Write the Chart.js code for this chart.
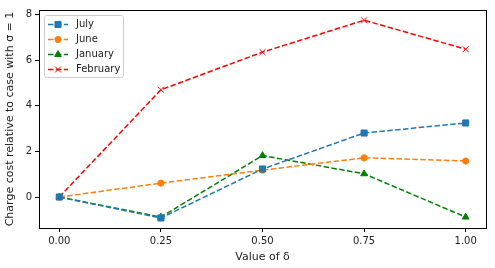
<!DOCTYPE html>
<html lang="en">
<head>
<meta charset="utf-8">
<title>Charge cost</title>
<script src="https://cdn.jsdelivr.net/npm/chart.js@4.4.1/dist/chart.umd.min.js"></script>
<style>
  html, body { margin: 0; padding: 0; background: #fff; }
  #wrap { width: 495px; height: 268px; }
</style>
</head>
<body>
<div id="wrap"><canvas id="chart"></canvas></div>
<script>
// data
var deltas = [0, 0.25, 0.5, 0.75, 1.0];
var july = [0, -0.92, 1.23, 2.81, 3.25];
var june = [0, 0.61, 1.18, 1.72, 1.58];
var january = [0, -0.88, 1.82, 1.02, -0.88];
var february = [0, 4.71, 6.36, 7.76, 6.49];
var xTicks = [0, 0.25, 0.5, 0.75, 1.0];
var yTicks = [0, 2, 4, 6, 8];

function pts(ys) {
  return deltas.map(function (x, i) { return { x: x, y: ys[i] }; });
}

var FONT = "'DejaVu Sans', sans-serif";
var dash = [5.5, 2.4];
var radii = { rect: 4.3, circle: 3.1, triangle: 3.9, crossRot: 4.2 };

function series(label, ys, color, style, filled) {
  return {
    label: label,
    data: pts(ys),
    borderColor: color,
    backgroundColor: filled ? color : 'rgba(0,0,0,0)',
    pointBackgroundColor: filled ? color : 'rgba(0,0,0,0)',
    pointBorderColor: color,
    pointStyle: style,
    pointRadius: radii[style],
    pointBorderWidth: 1,
    borderWidth: 1.5,
    borderDash: dash,
    tension: 0
  };
}

// box round the plot + legend drawn inside top-left
var frame = {
  id: 'frame',
  afterDraw: function (chart) {
    var ctx = chart.ctx, a = chart.chartArea;
    ctx.save();
    ctx.strokeStyle = '#000';
    ctx.lineWidth = 1;
    ctx.strokeRect(Math.round(a.left) + 0.5, Math.round(a.top) + 0.5,
      Math.round(a.right - a.left), Math.round(a.bottom - a.top));

    // legend
    var bx = a.left + 5, by = a.top + 5, bw = 79, bh = 62;
    ctx.fillStyle = 'rgba(255,255,255,0.8)';
    ctx.strokeStyle = '#ccc';
    ctx.beginPath();
    ctx.roundRect(bx + 0.5, by + 0.5, bw, bh, 2);
    ctx.fill();
    ctx.stroke();
    ctx.font = '10px ' + FONT;
    ctx.textBaseline = 'middle';
    chart.data.datasets.forEach(function (ds, i) {
      var y = by + 9.5 + i * 15;
      ctx.strokeStyle = ds.borderColor;
      ctx.lineWidth = 1.5;
      ctx.setLineDash(dash);
      ctx.beginPath();
      ctx.moveTo(bx + 4, y);
      ctx.lineTo(bx + 24, y);
      ctx.stroke();
      ctx.setLineDash([]);
      ctx.lineWidth = 1;
      ctx.fillStyle = ds.pointBackgroundColor;
      ctx.strokeStyle = ds.pointBorderColor;
      Chart.helpers.drawPoint(ctx, {
        pointStyle: ds.pointStyle, radius: ds.pointRadius, borderWidth: 1
      }, bx + 14, y);
      ctx.fillStyle = '#222';
      ctx.fillText(ds.label, bx + 32, y);
    });
    ctx.restore();
  }
};

new Chart(document.getElementById('chart'), {
  type: 'line',
  data: {
    datasets: [
      series('July', july, '#1f77b4', 'rect', true),
      series('June', june, '#ff7f0e', 'circle', true),
      series('January', january, '#008000', 'triangle', true),
      series('February', february, '#ff0000', 'crossRot', false)
    ]
  },
  options: {
    responsive: true,
    maintainAspectRatio: false,
    animation: false,
    layout: { padding: { left: 0, right: 9, top: 10, bottom: 0 } },
    plugins: { legend: { display: false }, tooltip: { enabled: false } },
    scales: {
      x: {
        type: 'linear',
        min: -0.05,
        max: 1.05,
        afterBuildTicks: function (s) { s.ticks = xTicks.map(function (v) { return { value: v }; }); },
        afterFit: function (s) { s.height = 40; },
        grid: { drawOnChartArea: false, tickLength: 4, tickColor: '#000' },
        border: { display: false },
        ticks: {
          color: '#222', font: { family: FONT, size: 10 }, padding: 3, maxRotation: 0,
          callback: function (v) { return Number(v).toFixed(2); }
        },
        title: { display: true, text: 'Value of δ', color: '#222', font: { family: FONT, size: 11 }, padding: { top: 2 } }
      },
      y: {
        min: -1.36,
        max: 8.21,
        afterBuildTicks: function (s) { s.ticks = yTicks.map(function (v) { return { value: v }; }); },
        afterFit: function (s) { s.width = 39; },
        grid: { drawOnChartArea: false, tickLength: 4, tickColor: '#000' },
        border: { display: false },
        ticks: { color: '#222', font: { family: FONT, size: 10 }, padding: 3 },
        title: { display: true, text: 'Charge cost relative to case with σ = 1', color: '#222', font: { family: FONT, size: 11 }, padding: { bottom: 2 } }
      }
    }
  },
  plugins: [frame]
});
</script>
</body>
</html>
